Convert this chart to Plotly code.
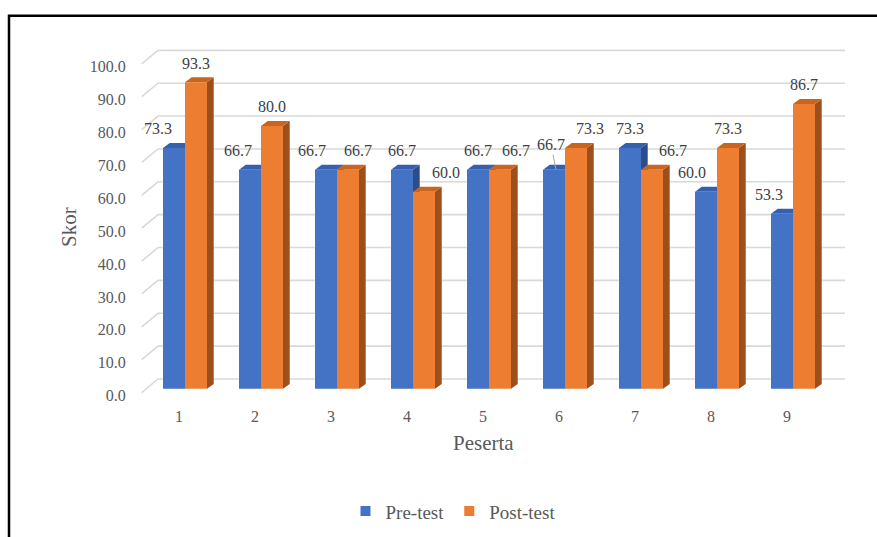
import plotly.graph_objects as go

# ---------------- data ----------------
participants = [1, 2, 3, 4, 5, 6, 7, 8, 9]
pre_test = [73.3, 66.7, 66.7, 66.7, 66.7, 66.7, 73.3, 60.0, 53.3]
post_test = [93.3, 80.0, 66.7, 60.0, 66.7, 73.3, 66.7, 73.3, 86.7]
y_ticks = [0, 10, 20, 30, 40, 50, 60, 70, 80, 90, 100]
series_names = ["Pre-test", "Post-test"]

# label nudges (pixels) – Excel's automatic placement, styling only
pre_label_dx = [-16, -12, -14, 0, 0, -3, 0, -14, -13]
post_label_dx = [0, 0, 10, 22, 16, 14, 21, 0, 0]
pre_leader = [False, False, False, False, False, True, False, False, False]

# ---------------- geometry (pixels -> axis units) ----------------
W, H = 877, 537
PX_X0 = 141.0          # pixel of x = 0.5 (front plane)
PX_PER_CAT = 76.0
PX_Y0 = 397.7          # pixel of y = 0 (front plane)
PX_PER_UNIT = 3.33
X_RANGE = [0.5, 10.0]
Y_RANGE = [-1.5, 106.0]

def ux(px):
    return px / PX_PER_CAT

def uy(px):
    return px / PX_PER_UNIT

BAR_SHIFT = ux(6)
BAR_BASE = uy(3.7)
BAR_W = ux(22)
SIDE_DX = ux(6.7)
SIDE_DY = uy(5)
WALL_DX = ux(17)
WALL_DY = uy(13.7)
WALL_END = 0.5 + ux(845 - PX_X0)

dom_x = [PX_X0 / W, (PX_X0 + (X_RANGE[1] - X_RANGE[0]) * PX_PER_CAT) / W]
dom_y = [1 - (PX_Y0 - Y_RANGE[0] * PX_PER_UNIT) / H,
         1 - (PX_Y0 - Y_RANGE[1] * PX_PER_UNIT) / H]

FONT = "Liberation Serif, Times New Roman, serif"
TXT = "#595959"
LBL = "#404040"

colors = {
    "Pre-test": dict(front="#4472C4", top="#3560AE", side="#2C4C8A"),
    "Post-test": dict(front="#ED7D31", top="#C9651F", side="#9C4E1C"),
}

fig = go.Figure()

# back wall gridlines + left diagonal wall edges
gx, gy = [], []
for v in y_ticks:
    gx += [0.5 + ux(0.7), 0.5 + WALL_DX, WALL_END, None]
    gy += [v, v + WALL_DY, v + WALL_DY, None]
fig.add_trace(go.Scatter(x=gx, y=gy, mode="lines",
                         line=dict(color="#D9D9D9", width=1.6),
                         hoverinfo="skip", showlegend=False))


def faces(values, offset):
    fx, fy, tx, ty, sx, sy = [], [], [], [], [], []
    for cat, v in zip(participants, values):
        x0 = cat + BAR_SHIFT + offset
        x1 = x0 + BAR_W
        b = BAR_BASE
        t = v + BAR_BASE
        fx += [x0, x0, x1, x1, x0, None]
        fy += [b, t, t, b, b, None]
        tx += [x0, x0 + SIDE_DX, x1 + SIDE_DX, x1, x0, None]
        ty += [t, t + SIDE_DY, t + SIDE_DY, t, t, None]
        sx += [x1, x1, x1 + SIDE_DX, x1 + SIDE_DX, x1, None]
        sy += [b, t, t + SIDE_DY, b + SIDE_DY, b, None]
    return (fx, fy), (tx, ty), (sx, sy)


for name, values, offset in [("Pre-test", pre_test, -BAR_W),
                             ("Post-test", post_test, 0.0)]:
    c = colors[name]
    front, top, side = faces(values, offset)
    for (xs, ys), col in [(side, c["side"]), (top, c["top"]), (front, c["front"])]:
        fig.add_trace(go.Scatter(x=xs, y=ys, mode="lines", fill="toself",
                                 fillcolor=col, line=dict(width=0, color=col),
                                 hoverinfo="skip", showlegend=False))

# legend entries
for name in series_names:
    fig.add_trace(go.Scatter(x=[None], y=[None], mode="markers", name=name,
                             marker=dict(symbol="square", size=10,
                                         color=colors[name]["front"])))

# data labels
annotations = []
for i, cat in enumerate(participants):
    pre_c = cat + BAR_SHIFT - BAR_W / 2
    post_c = cat + BAR_SHIFT + BAR_W / 2
    if pre_leader[i]:
        annotations.append(dict(x=pre_c + ux(2), y=pre_test[i] + BAR_BASE,
                                text=f"{pre_test[i]:.1f}", showarrow=True,
                                arrowhead=0, arrowwidth=1, arrowcolor="#A6A6A6",
                                ax=pre_label_dx[i] - 2, ay=-25, standoff=0,
                                font=dict(family=FONT, size=16, color=LBL)))
    else:
        annotations.append(dict(x=pre_c, y=pre_test[i] + BAR_BASE,
                                text=f"{pre_test[i]:.1f}", showarrow=False,
                                xshift=pre_label_dx[i], yshift=19, yanchor="middle",
                                font=dict(family=FONT, size=16, color=LBL)))
    annotations.append(dict(x=post_c, y=post_test[i] + BAR_BASE,
                            text=f"{post_test[i]:.1f}", showarrow=False,
                            xshift=post_label_dx[i], yshift=19, yanchor="middle",
                            font=dict(family=FONT, size=16, color=LBL)))

# axis titles
annotations.append(dict(xref="paper", yref="paper", x=69 / W, y=1 - 230 / H,
                        xanchor="center", yanchor="middle",
                        text="Skor", textangle=-90, showarrow=False,
                        font=dict(family=FONT, size=21, color=TXT)))
annotations.append(dict(xref="paper", yref="paper", x=484 / W, y=1 - 449 / H,
                        xanchor="center", yanchor="middle",
                        text="Peserta", showarrow=False,
                        font=dict(family=FONT, size=21, color=TXT)))

fig.update_layout(
    width=W, height=H,
    margin=dict(l=0, r=0, t=0, b=0),
    paper_bgcolor="white", plot_bgcolor="rgba(0,0,0,0)",
    xaxis=dict(domain=dom_x, range=X_RANGE, tickvals=participants,
               ticktext=[str(p) for p in participants],
               showgrid=False, zeroline=False, showline=False,
               ticks="outside", ticklen=4, tickcolor="rgba(0,0,0,0)",
               tickfont=dict(family=FONT, size=16, color=TXT), fixedrange=True),
    yaxis=dict(domain=dom_y, range=Y_RANGE, tickvals=y_ticks, tickformat=".1f",
               showgrid=False, zeroline=False, showline=False,
               ticks="outside", ticklen=11, tickcolor="rgba(0,0,0,0)",
               ticklabelshift=3,
               tickfont=dict(family=FONT, size=16, color=TXT), fixedrange=True),
    legend=dict(orientation="h", x=453 / W, xanchor="center",
                y=1 - 518 / H, yanchor="middle",
                font=dict(family=FONT, size=19, color=TXT)),
    annotations=annotations,
    shapes=[dict(type="rect", xref="paper", yref="paper",
                 x0=9 / W, y0=1 - 16 / H, x1=1.02, y1=-0.02,
                 line=dict(color="black", width=2.5))],
)

fig.write_html("out.html")
